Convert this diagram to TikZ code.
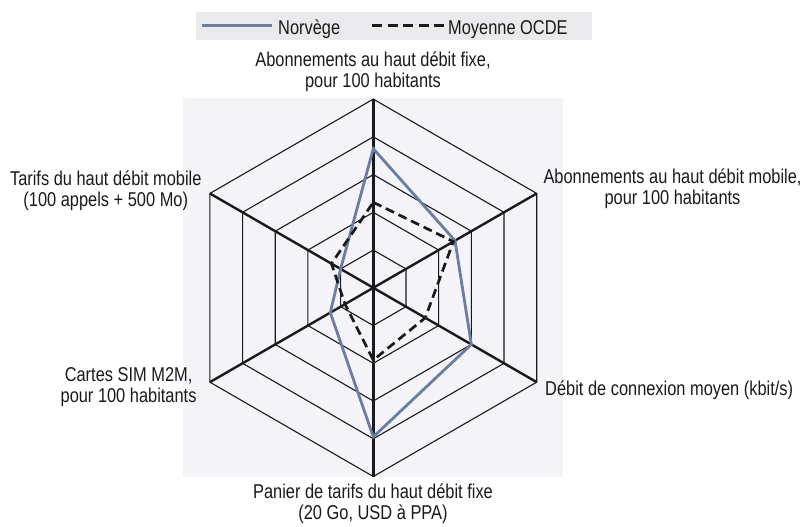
\documentclass[tikz,border=0pt]{standalone}
\usepackage{fontspec}
\setmainfont[FakeStretch=0.82]{Liberation Sans}
\definecolor{norway}{RGB}{108,124,162}
\definecolor{plotbg}{RGB}{243,243,248}
\definecolor{legendbg}{RGB}{234,234,237}
\definecolor{ink}{RGB}{26,26,26}
\begin{document}
\begin{tikzpicture}[x=1pt,y=-1pt,
  lbl/.style={font=\fontsize{20}{21}\selectfont, text=ink, align=center, inner sep=0pt},
  ring/.style={draw=ink, line width=1.1pt},
  spoke/.style={draw=ink, line width=2.4pt},
  nor/.style={draw=norway, line width=2.8pt},
  oecd/.style={draw=ink, line width=2.7pt, dash pattern=on 9pt off 5pt},
  oecdkey/.style={draw=ink, line width=2.7pt, dash pattern=on 10pt off 5.5pt},
]
\fill[white] (0,0) rectangle (801,527);
\useasboundingbox (0,0) rectangle (801,527);

% legend strip and plot area
\fill[legendbg] (196,12) rectangle (592,40);
\fill[plotbg] (183,98) rectangle (563,477);

% legend
\coordinate (kn0) at (201.7,25.7);
\coordinate (kn1) at (271.7,25.7);
\draw[nor, line width=3pt] (kn0) -- (kn1);
\node[lbl, anchor=base west] (keynor) at (278,34.3) {Norvège};
\coordinate (ko0) at (372,25.7);
\coordinate (ko1) at (444,25.7);
\draw[oecdkey] (ko0) -- (ko1);
\node[lbl, anchor=base west] (keyoecd) at (448,34.3) {Moyenne OCDE};

% radar grid
\begin{scope}[shift={(373.3,287.8)}]
  \coordinate (o) at (0,0);
  \foreach \k in {1,...,5}
    \draw[ring] (-90:\k*37.74) -- (-30:\k*37.74) -- (30:\k*37.74)
      -- (90:\k*37.74) -- (150:\k*37.74) -- (210:\k*37.74) -- cycle;
  \foreach \a/\n in {-90/v1,-30/v2,30/v3,90/v4,150/v5,210/v6} {
    \coordinate (\n) at (\a:188.7);
    \draw[spoke] (o) -- (\n);
  }
  % Norway
  \draw[nor] (-90:0.737*188.7) -- (-30:0.50*188.7) -- (30:0.60*188.7)
    -- (90:0.79*188.7) -- (150:0.263*188.7) -- (210:0.20*188.7) -- cycle;
  % OECD average
  \draw[oecd] (-90:0.453*188.7) -- (-30:0.49*188.7) -- (30:0.318*188.7)
    -- (90:0.383*188.7) -- (150:0.173*188.7) -- (210:0.256*188.7) -- cycle;
\end{scope}

% axis labels
\node[lbl] (ltop) at (373,71.5) {Abonnements au haut débit fixe,\\pour 100 habitants};
\node[lbl, anchor=west] (lur) at (543.3,189.1) {Abonnements au haut débit mobile,\\pour 100 habitants};
\node[lbl, anchor=base west] (llr) at (545,395) {Débit de connexion moyen (kbit/s)};
\node[lbl] (lbot) at (373,504) {Panier de tarifs du haut débit fixe\\(20 Go, USD à PPA)};
\node[lbl, anchor=east] (lll) at (196.7,387.3) {Cartes SIM M2M,\\pour 100 habitants};
\node[lbl, anchor=east] (lul) at (201.7,190.6) {Tarifs du haut débit mobile\\(100 appels + 500 Mo)};
\end{tikzpicture}
\end{document}
